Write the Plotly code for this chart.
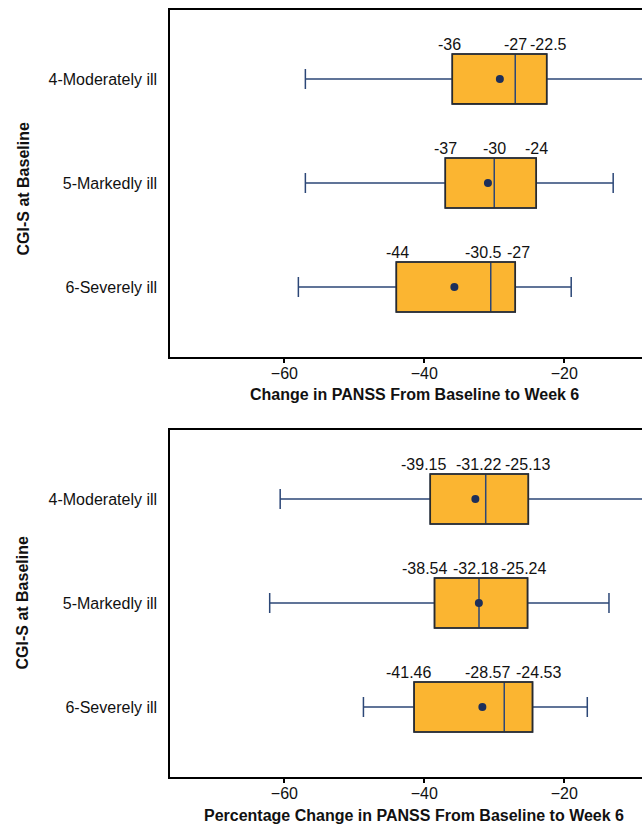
import plotly.graph_objects as go

# ---- data -------------------------------------------------------------
categories = ["4-Moderately ill", "5-Markedly ill", "6-Severely ill"]

# Change in PANSS total score, baseline to week 6
chg_q1 = [-36, -37, -44]
chg_median = [-27, -30, -30.5]
chg_q3 = [-22.5, -24, -27]
chg_mean = [-29.2, -30.9, -35.7]
chg_low = [-57, -57, -58]
chg_high = [-5, -13, -19]

# Percentage change in PANSS total score, baseline to week 6
pct_q1 = [-39.15, -38.54, -41.46]
pct_median = [-31.22, -32.18, -28.57]
pct_q3 = [-25.13, -25.24, -24.53]
pct_mean = [-32.7, -32.2, -31.7]
pct_low = [-60.6, -62.1, -48.7]
pct_high = [-3, -13.6, -16.7]

x_ticks = [-60, -40, -20]
x_title_top = "Change in PANSS From Baseline to Week 6"
x_title_bottom = "Percentage Change in PANSS From Baseline to Week 6"
y_title = "CGI-S at Baseline"

# ---- styling ----------------------------------------------------------
FONT = "Liberation Sans, Arial, sans-serif"
FS = 16
BOX_FILL = "#FBB531"
NAVY = "#2C4777"
DOT = "#1D2F5A"
EDGE = "#2A2A2A"
BOX_W = 0.48
X_RANGE = [-76.35, -8.88]
Y_RANGE = [-0.673, 2.663]

# categories drawn top to bottom
positions = [2, 1, 0]

# horizontal pixel nudges so adjacent value labels do not collide
nudge_top = [[-3, 0, 2], [0, 0, 0], [1, -7, 3]]
nudge_bottom = [[-7, -7, -1], [-10, -4, -4], [-6, -17, 6]]

fig = go.Figure()


def add_panel(q1, med, q3, mean, low, high, xa, ya, nudges, label_fmt):
    fig.add_trace(go.Box(
        y=positions, q1=q1, median=med, q3=q3,
        lowerfence=low, upperfence=high,
        orientation="h", width=BOX_W, whiskerwidth=0.4,
        fillcolor=BOX_FILL, line=dict(color=NAVY, width=1.5),
        boxpoints=False, showlegend=False, hoverinfo="skip",
        xaxis=xa, yaxis=ya,
    ))
    fig.add_trace(go.Scatter(
        x=mean, y=positions, mode="markers",
        marker=dict(color=DOT, size=8),
        showlegend=False, hoverinfo="skip", xaxis=xa, yaxis=ya,
    ))
    for i, p in enumerate(positions):
        # dark outline around each interquartile box
        fig.add_shape(type="rect", xref=xa, yref=ya,
                      x0=q1[i], x1=q3[i], y0=p - BOX_W / 2, y1=p + BOX_W / 2,
                      line=dict(color=EDGE, width=1.6), fillcolor="rgba(0,0,0,0)")
        for j, v in enumerate([q1[i], med[i], q3[i]]):
            fig.add_annotation(
                x=v, y=p + BOX_W / 2, xref=xa, yref=ya,
                text=label_fmt(v), showarrow=False,
                yanchor="bottom", xanchor="center",
                xshift=nudges[i][j], yshift=-1,
                font=dict(family=FONT, size=FS, color="#111111"),
            )


def fmt_plain(v):
    return f"{v:g}"


def fmt_two(v):
    return f"{v:.2f}"


add_panel(chg_q1, chg_median, chg_q3, chg_mean, chg_low, chg_high,
          "x", "y", nudge_top, fmt_plain)
add_panel(pct_q1, pct_median, pct_q3, pct_mean, pct_low, pct_high,
          "x2", "y2", nudge_bottom, fmt_two)

axis_x = dict(
    range=X_RANGE, tickvals=x_ticks, ticks="outside", ticklen=4,
    tickwidth=1.5, tickcolor="black", showline=True, linecolor="black",
    linewidth=1.5, mirror=True, showgrid=False, zeroline=False,
    ticklabelstandoff=-3,
    tickfont=dict(family=FONT, size=FS, color="#111111"), fixedrange=True,
)
axis_y = dict(
    range=Y_RANGE, tickvals=positions, ticktext=categories, ticks="",
    ticklabelstandoff=8, showline=True, linecolor="black", linewidth=1.5,
    showgrid=False, zeroline=False,
    tickfont=dict(family=FONT, size=FS, color="#111111"), fixedrange=True,
)

top_dom = [0.5476, 1.0]
bot_dom = [0.0, 0.4524]

fig.update_layout(
    width=642, height=825,
    margin=dict(l=170, r=0, t=10, b=48),
    paper_bgcolor="white", plot_bgcolor="white",
    font=dict(family=FONT, size=FS, color="black"),
    xaxis=dict(axis_x, anchor="y"),
    yaxis=dict(axis_y, domain=top_dom, anchor="x"),
    xaxis2=dict(axis_x, anchor="y2"),
    yaxis2=dict(axis_y, domain=bot_dom, anchor="x2"),
)

# axis titles
plot_w = 642 - 170
title_x = (414 - 170) / plot_w
for text, y in [(x_title_top, top_dom[0]), (x_title_bottom, bot_dom[0])]:
    fig.add_annotation(
        x=title_x, y=y, xref="paper", yref="paper", text=f"<b>{text}</b>",
        showarrow=False, yanchor="middle", yshift=-38,
        font=dict(family=FONT, size=FS, color="#111111"),
    )
for dom, shift in ((top_dom, -6), (bot_dom, 0)):
    fig.add_annotation(
        x=(23 - 170) / plot_w, y=(dom[0] + dom[1]) / 2, xref="paper",
        yref="paper", text=f"<b>{y_title}</b>", textangle=-90,
        showarrow=False, xanchor="center", yanchor="middle", yshift=shift,
        font=dict(family=FONT, size=FS, color="#111111"),
    )

fig.write_html("out.html")
